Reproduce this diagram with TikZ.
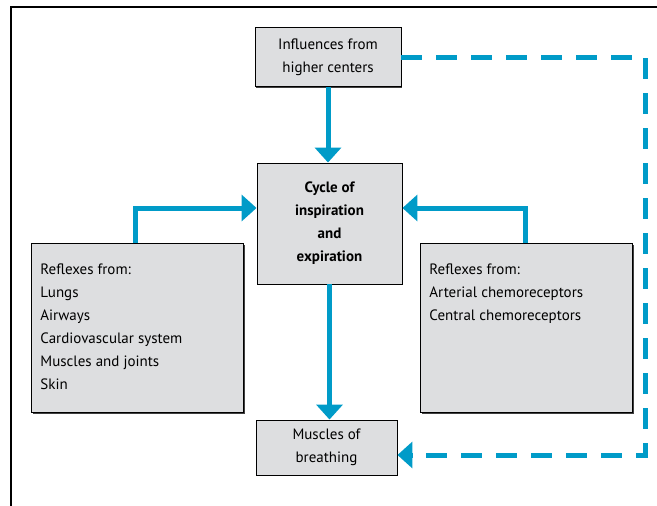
\documentclass[tikz,border=0pt]{standalone}
\usepackage{fontspec}
\setmainfont{PT Sans}
\usetikzlibrary{arrows.meta,shadows}
\definecolor{flowblue}{RGB}{0,155,200}
\definecolor{boxgray}{RGB}{221,222,224}

\begin{document}
\begin{tikzpicture}[x=1pt,y=-1pt,
	box/.style={draw=black, line width=0.9pt, fill=boxgray, align=center,
		drop shadow={shadow xshift=1.2pt, shadow yshift=-1.2pt, fill=black!75, opacity=1},
		font=\fontsize{15}{23}\selectfont, inner sep=0pt},
	flow/.style={draw=flowblue, line width=5pt, -{Triangle[width=26pt,length=15pt]}},
	dashflow/.style={flow, dash pattern=on 21pt off 14pt}]
	
	\useasboundingbox (0,0) rectangle (657,506);
	\draw[line width=1.6pt] (11,506) -- (11,7) -- (657,7);
	
	\node[box, minimum width=146pt, minimum height=59pt] (higher) at (328,57)
		{Influences from\\higher centers};
	\node[box, minimum width=145pt, minimum height=121pt, font=\fontsize{15}{23}\selectfont\bfseries] (cycle) at (329.5,223.5)
		{Cycle of\\inspiration\\and\\expiration};
	\node[box, anchor=north west, align=left, inner sep=9pt] (lefty) at (31,243)
		{\parbox[t][151pt][t]{194pt}{\vspace{11pt}Reflexes from:\\Lungs\\Airways\\Cardiovascular system\\Muscles and joints\\Skin}};
	\node[box, anchor=north west, align=left, inner sep=9pt] (righty) at (420,243)
		{\parbox[t][151pt][t]{194pt}{\vspace{11pt}Reflexes from:\\Arterial chemoreceptors\\Central chemoreceptors}};
	\node[box, minimum width=141pt, minimum height=55pt] (muscles) at (326.5,447.5)
		{Muscles of\\breathing};
	
	\coordinate (lturn) at (135,208);
	\coordinate (rturn) at (525,208);
	\coordinate (dtop) at (645,57);
	\coordinate (dbot) at (645,455);
	
	\path[flow] (higher.south) -- (higher.south |- cycle.north);
	\path[flow] (cycle.south) -- (muscles.north -| cycle.south);
	\path[flow] (lturn |- lefty.north) -- (lturn) -- (lturn -| cycle.west);
	\path[flow] (rturn |- righty.north) -- (rturn) -- (rturn -| cycle.east);
	\path[dashflow] (higher.east) -- (dtop) -- (dbot) -- (dbot -| muscles.east);
	
\end{tikzpicture}
\end{document}
